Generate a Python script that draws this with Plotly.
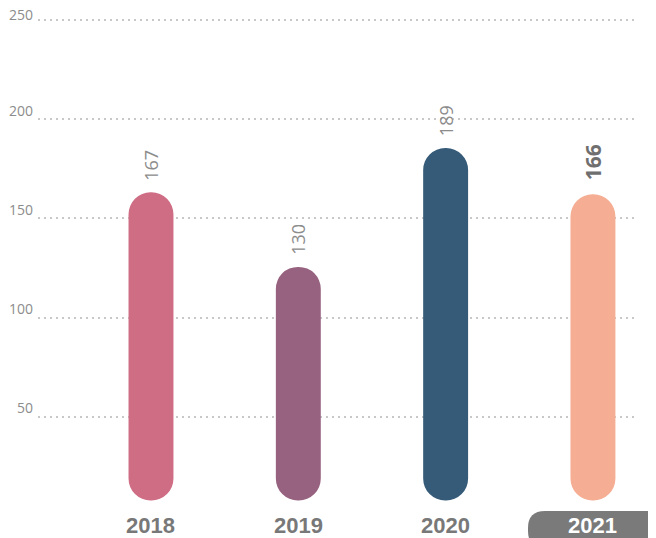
import plotly.graph_objects as go

# ---- data ----
years = ["2018", "2019", "2020", "2021"]
values = [167, 130, 189, 166]
bar_colors = ["#cf6d85", "#97627f", "#355b78", "#f5ae93"]
y_ticks = [50, 100, 150, 200, 250]
highlight_year = "2021"

# ---- geometry / style constants ----
# the page body adds an 8px margin, so the figure is 8px smaller than the window
OFF = 8
W, H = 656 - OFF, 538 - OFF
ML, MR, MT, MB = 38 - OFF, 19, 16 - OFF, 22
PW, PH = W - ML - MR, H - MT - MB
BAR_W = 0.305
BAR_FLOOR = 14.1       # bottom of the pill on the bar axis

def px_to_paper_x(px):      # px in window coordinates
    return (px - OFF - ML) / PW

def px_to_paper_y(py):
    return (H - MB - (py - OFF)) / PH

fig = go.Figure()

# empty trace so the grid axis (x, y) subplot exists
fig.add_trace(go.Scatter(x=[], y=[], xaxis="x", yaxis="y", showlegend=False,
                         hoverinfo="skip"))

# pill bars (rounded at both ends)
fig.add_trace(go.Bar(
    x=years, y=[v - BAR_FLOOR for v in values], base=[BAR_FLOOR] * len(values),
    width=BAR_W, marker=dict(color=bar_colors, cornerradius="50%", line=dict(width=0)),
    yaxis="y2", hoverinfo="skip", showlegend=False,
))

annotations = []
for i, (yr, v) in enumerate(zip(years, values)):
    hl = yr == highlight_year
    # value label above each bar
    annotations.append(dict(
        x=i, y=v, xref="x", yref="y2", text=f"<b>{v}</b>" if hl else str(v),
        showarrow=False, textangle=-90, yanchor="bottom", xanchor="center",
        yshift=12 if hl else 10,
        font=dict(family="Open Sans", size=21 if hl else 18,
                  color="#6f6f6f" if hl else "#8c8c8c"),
    ))
    # category label under each bar
    annotations.append(dict(
        x=i, y=px_to_paper_y(525), xref="x", yref="paper", text=f"<b>{yr}</b>",
        showarrow=False, yanchor="middle", xanchor="center",
        font=dict(family="Liberation Sans, Arial", size=22,
                  color="#ffffff" if hl else "#787878"),
    ))

# y tick labels, sitting just above their grid lines
for t in y_ticks:
    annotations.append(dict(
        x=0, y=t, xref="paper", yref="y", text=str(t), showarrow=False,
        xanchor="right", yanchor="middle", xshift=-3,
        yshift=5 if t == max(y_ticks) else 9,
        font=dict(family="Open Sans", size=14, color="#8c8c8c"),
    ))

# highlight pill behind 2021 label
x0, x1 = px_to_paper_x(528), px_to_paper_x(672)
top, bot = px_to_paper_y(511), px_to_paper_y(548)
rx, ry = 17 / PW, 17 / PH
path = (f"M {x0+rx},{top} L {x1-rx},{top} Q {x1},{top} {x1},{top-ry} "
        f"L {x1},{bot+ry} Q {x1},{bot} {x1-rx},{bot} L {x0+rx},{bot} "
        f"Q {x0},{bot} {x0},{bot+ry} L {x0},{top-ry} Q {x0},{top} {x0+rx},{top} Z")
shapes = [dict(type="path", path=path, xref="paper", yref="paper",
               fillcolor="#7a7a7a", line=dict(width=0), layer="below")]

fig.update_layout(
    width=W, height=H,
    margin=dict(l=ML, r=MR, t=MT, b=MB, pad=0, autoexpand=False),
    paper_bgcolor="white", plot_bgcolor="white",
    showlegend=False,
    annotations=annotations,
    shapes=shapes,
    xaxis=dict(
        type="category", categoryorder="array", categoryarray=years,
        range=[-0.767, 3.299], autorange=False, showgrid=False, zeroline=False,
        showline=False, ticks="", showticklabels=False, automargin=False,
    ),
    yaxis=dict(
        range=[0, 252], autorange=False, tickmode="array", tickvals=y_ticks,
        showgrid=True, gridcolor="#c8c8c8", gridwidth=2, griddash="2px,4px",
        zeroline=False, showline=False, ticks="", showticklabels=False,
        automargin=False,
    ),
    yaxis2=dict(range=[6.4, 254.5], autorange=False, overlaying="y",
                anchor="x", showticklabels=False, showgrid=False, zeroline=False,
                showline=False, ticks=""),
)

fig.write_html("out.html")
